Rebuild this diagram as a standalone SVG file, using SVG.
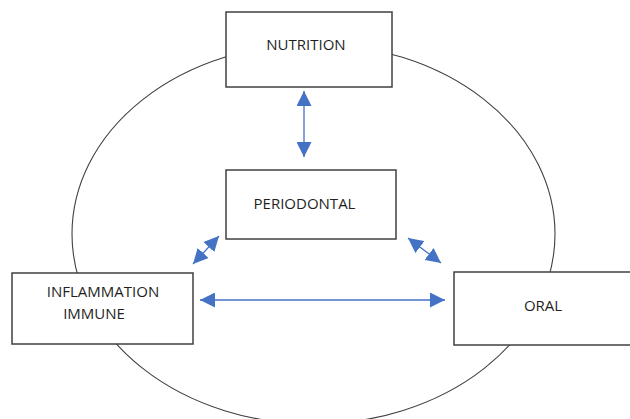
<svg xmlns="http://www.w3.org/2000/svg" width="630" height="419" viewBox="0 0 630 419">
<defs>
<marker id="ah" viewBox="0 0 10 10" refX="10" refY="5" markerWidth="15" markerHeight="15" markerUnits="userSpaceOnUse" orient="auto-start-reverse">
<path d="M0,0 L10,5 L0,10 z" fill="#4472C4"/>
</marker>
<style>
.box{fill:#fff;stroke:#404040;stroke-width:1.5}
.lbl{font-family:"Open Sans","Liberation Sans",sans-serif;font-size:15px;fill:#1f1f1f}
.conn{stroke:#4472C4;stroke-width:1.3;fill:none;marker-start:url(#ah);marker-end:url(#ah)}
</style>
</defs>
<rect width="630" height="419" fill="#fff"/>
<ellipse cx="313.5" cy="234" rx="241.5" ry="190" fill="none" stroke="#404040" stroke-width="1.1"/>
<g id="connectors">
<line class="conn" x1="304" y1="91" x2="304" y2="157"/>
<line class="conn" x1="193" y1="264" x2="219" y2="236"/>
<line class="conn" x1="408" y1="238" x2="441" y2="263"/>
<line class="conn" x1="200" y1="300" x2="445" y2="300"/>
</g>
<g id="nutrition">
<rect class="box" x="226" y="12" width="166" height="75"/>
<text class="lbl" x="306" y="50" text-anchor="middle">NUTRITION</text>
</g>
<g id="periodontal">
<rect class="box" x="226" y="170" width="170" height="69"/>
<text class="lbl" x="304.5" y="209" text-anchor="middle">PERIODONTAL</text>
</g>
<g id="inflammation">
<rect class="box" x="12" y="273" width="181" height="71"/>
<text class="lbl" x="103" y="297" text-anchor="middle">INFLAMMATION</text>
<text class="lbl" x="94" y="319" text-anchor="middle">IMMUNE</text>
</g>
<g id="oral">
<rect class="box" x="454" y="272" width="180" height="73"/>
<text class="lbl" x="543" y="311" text-anchor="middle">ORAL</text>
</g>
</svg>
